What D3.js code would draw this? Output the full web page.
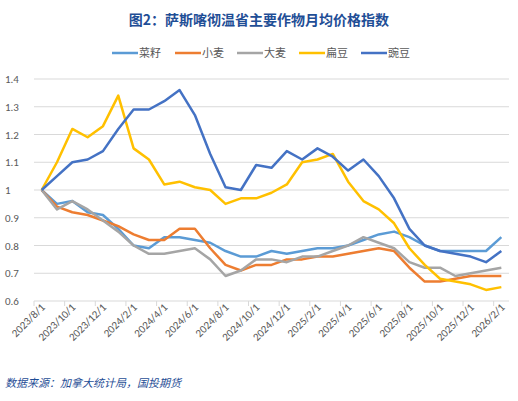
<!DOCTYPE html>
<html><head><meta charset="utf-8">
<script src="https://cdn.jsdelivr.net/npm/d3@7"></script>
<style>body{margin:0;background:#fff;}svg{font-family:"Noto Sans CJK SC","Microsoft YaHei",sans-serif;}</style>
</head><body><div id="chart"></div>
<script>
var dates = [];
for (var y = 2023, m = 8; !(y === 2026 && m > 2); m++) {
    if (m > 12) { m = 1; y++; }
    dates.push(y + "/" + m + "/1");
}
var names = ["菜籽", "小麦", "大麦", "扁豆", "豌豆"];
var colors = ["#5B9BD5", "#ED7D31", "#A5A5A5", "#FFC000", "#4472C4"];
var canola = [1.00,0.95,0.96,0.92,0.91,0.86,0.80,0.79,0.83,0.83,0.82,0.81,0.78,0.76,0.76,0.78,0.77,0.78,0.79,0.79,0.80,0.82,0.84,0.85,0.83,0.80,0.78,0.78,0.78,0.78,0.83];
var wheat = [1.00,0.94,0.92,0.91,0.89,0.87,0.84,0.82,0.82,0.86,0.86,0.79,0.73,0.71,0.73,0.73,0.75,0.75,0.76,0.76,0.77,0.78,0.79,0.78,0.72,0.67,0.67,0.68,0.69,0.69,0.69];
var barley = [1.00,0.93,0.96,0.93,0.89,0.85,0.80,0.77,0.77,0.78,0.79,0.75,0.69,0.71,0.75,0.75,0.74,0.76,0.76,0.78,0.80,0.83,0.81,0.79,0.74,0.72,0.72,0.69,0.70,0.71,0.72];
var lentil = [1.00,1.10,1.22,1.19,1.23,1.34,1.15,1.11,1.02,1.03,1.01,1.00,0.95,0.97,0.97,0.99,1.02,1.10,1.11,1.13,1.03,0.96,0.93,0.88,0.79,0.73,0.68,0.67,0.66,0.64,0.65];
var pea = [1.00,1.05,1.10,1.11,1.14,1.22,1.29,1.29,1.32,1.36,1.27,1.13,1.01,1.00,1.09,1.08,1.14,1.11,1.15,1.12,1.07,1.11,1.05,0.97,0.86,0.80,0.78,0.77,0.76,0.74,0.78];
var series = [canola, wheat, barley, lentil, pea];
var yTicks = [0.6, 0.7, 0.8, 0.9, 1, 1.1, 1.2, 1.3, 1.4];

var W = 518, H = 401;
var svg = d3.select("#chart").append("svg").attr("width", W).attr("height", H);

svg.append("text").attr("x", W / 2).attr("y", 25).attr("text-anchor", "middle")
    .attr("font-size", 14).attr("font-weight", "bold").attr("fill", "#1F4E96")
    .text("图2：萨斯喀彻温省主要作物月均价格指数");

var x = d3.scaleBand().domain(dates).range([34, 509]);
var yS = d3.scaleLinear().domain([0.6, 1.4]).range([301, 79]);

svg.append("g").selectAll("line").data(yTicks.slice(1)).join("line")
    .attr("x1", 34).attr("x2", 509)
    .attr("y1", function (d) { return yS(d); }).attr("y2", function (d) { return yS(d); })
    .attr("stroke", "#d9d9d9");
svg.append("g").selectAll("text").data(yTicks).join("text")
    .attr("x", 5).attr("y", function (d) { return yS(d) + 4; })
    .attr("font-size", 11).attr("fill", "#595959").attr("font-family", "Calibri,Carlito,'Liberation Sans',sans-serif")
    .text(function (d) { return d; });

// x axis
svg.append("line").attr("x1", 34).attr("x2", 509).attr("y1", 301).attr("y2", 301).attr("stroke", "#d9d9d9");
var tickIdx = d3.range(0, 32, 2);
svg.append("g").selectAll("line").data(tickIdx).join("line")
    .attr("x1", function (i) { return 34 + i * x.bandwidth(); })
    .attr("x2", function (i) { return 34 + i * x.bandwidth(); })
    .attr("y1", 301).attr("y2", 306).attr("stroke", "#d9d9d9");
svg.append("g").selectAll("text").data(dates.filter(function (d, i) { return i % 2 === 0; })).join("text")
    .attr("transform", function (d) { return "translate(" + (x(d) + x.bandwidth() / 2 + 4) + ",308) rotate(-45)"; })
    .attr("text-anchor", "end").attr("font-size", 11).attr("fill", "#595959")
    .attr("font-family", "Calibri,Carlito,'Liberation Sans',sans-serif")
    .text(function (d) { return d; });

var line = d3.line()
    .x(function (d, i) { return x(dates[i]) + x.bandwidth() / 2; })
    .y(function (d) { return yS(d); });
series.forEach(function (s, k) {
    svg.append("path").datum(s).attr("d", line).attr("fill", "none")
        .attr("stroke", colors[k]).attr("stroke-width", 2.5).attr("stroke-linejoin", "round");
});

// legend
var lx = [112, 175, 237, 299, 361];
names.forEach(function (n, k) {
    svg.append("line").attr("x1", lx[k]).attr("x2", lx[k] + 26).attr("y1", 53).attr("y2", 53)
        .attr("stroke", colors[k]).attr("stroke-width", 2.5);
    svg.append("text").attr("x", lx[k] + 27).attr("y", 57).attr("font-size", 11).attr("fill", "#595959").text(n);
});

svg.append("text").attr("x", 5).attr("y", 387).attr("font-size", 11).attr("font-style", "italic")
    .attr("fill", "#1F4E96").text("数据来源：加拿大统计局，国投期货");
</script></body></html>
